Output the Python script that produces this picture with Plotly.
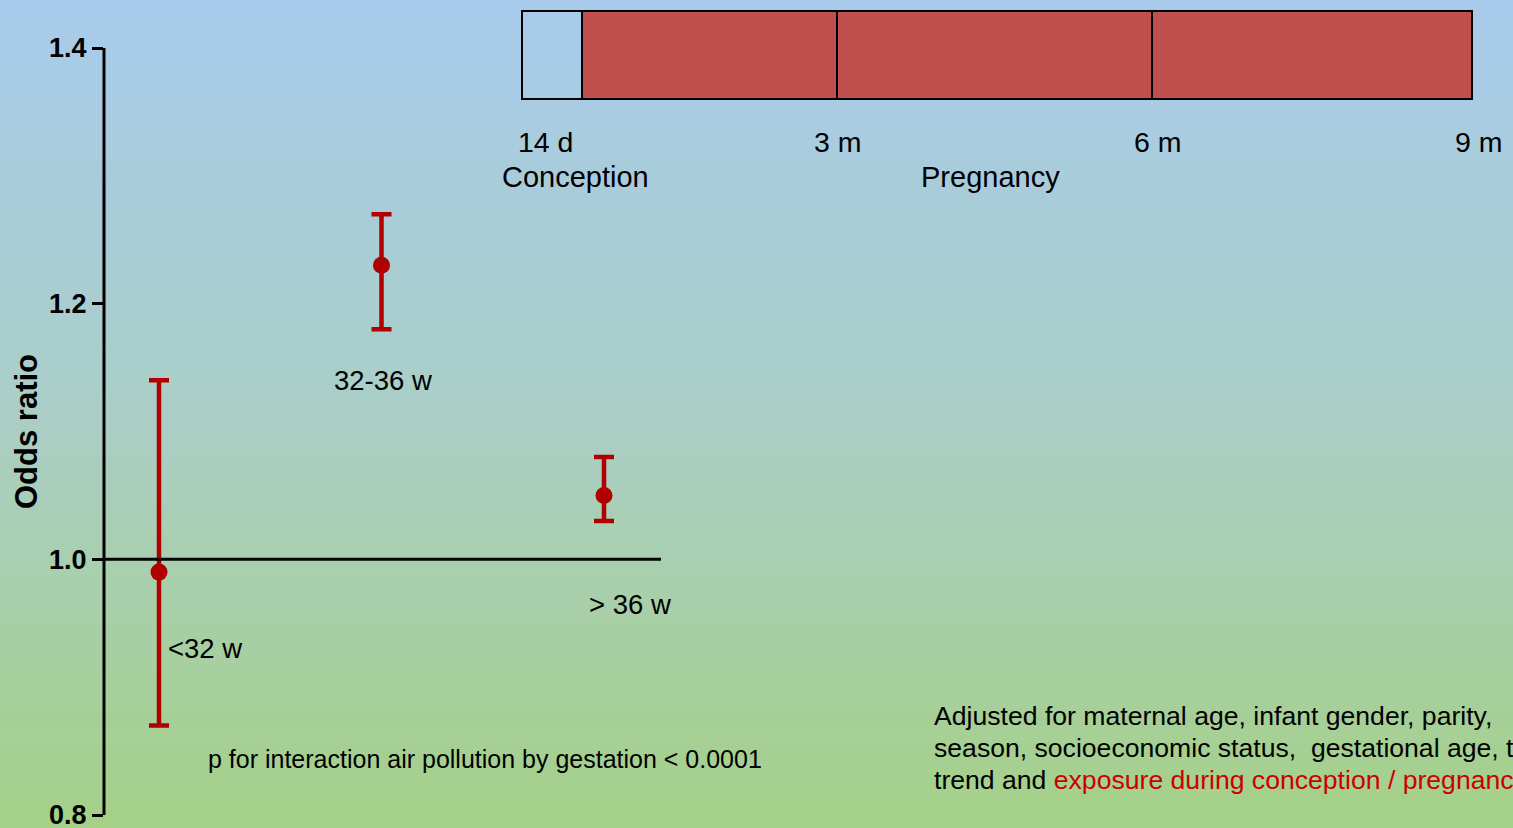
import plotly.graph_objects as go

# ---- data ----
groups = ["<32 w", "32-36 w", "> 36 w"]
group_pos = [1, 2, 3]
odds_ratio = [0.99, 1.23, 1.05]
ci_low = [0.87, 1.18, 1.03]
ci_high = [1.14, 1.27, 1.08]

y_ticks = [0.8, 1.0, 1.2, 1.4]
y_ticktext = ["0.8", "1.0", "1.2", "1.4"]

timeline_ticks = ["14 d", "3 m", "6 m", "9 m"]
timeline_phases = ["Conception", "Pregnancy"]

# ---- layout geometry (pixels) ----
W, H = 1513, 828
L = 104
PW = W - L


def px(x):
    return (x - L) / PW


def py(y):
    return 1 - y / H


FONT = "Arial, Liberation Sans, sans-serif"
RED = "#B00000"

fig = go.Figure()

fig.add_trace(go.Scatter(
    x=group_pos, y=odds_ratio, mode="markers",
    marker=dict(color=RED, size=17),
    error_y=dict(type="data", symmetric=False,
                 array=[h - o for h, o in zip(ci_high, odds_ratio)],
                 arrayminus=[o - l for o, l in zip(odds_ratio, ci_low)],
                 color=RED, thickness=4.5, width=10),
    showlegend=False, hoverinfo="skip",
))

shapes = []
# gradient background
stops = [(0, (168, 203, 236)), (414, (170, 206, 198)), (828, (165, 208, 135))]


def col_at(y):
    for (y0, c0), (y1, c1) in zip(stops[:-1], stops[1:]):
        if y0 <= y <= y1:
            t = (y - y0) / (y1 - y0)
            return "rgb(%d,%d,%d)" % tuple(round(a + (b - a) * t) for a, b in zip(c0, c1))
    return "rgb(%d,%d,%d)" % stops[-1][1]


step = 6
for y in range(0, H, step):
    shapes.append(dict(type="rect", xref="paper", yref="paper", layer="below",
                       x0=px(0), x1=1.0, y0=py(y + step + 1), y1=py(y),
                       fillcolor=col_at(y + step / 2), line=dict(width=0)))

# y axis line (0.8 to 1.4)
shapes.append(dict(type="line", xref="paper", yref="y", x0=0, x1=0,
                   y0=y_ticks[0], y1=y_ticks[-1], line=dict(color="black", width=3)))
# reference line at OR = 1
shapes.append(dict(type="line", xref="paper", yref="y", x0=0, x1=px(661),
                   y0=1.0, y1=1.0, line=dict(color="black", width=3)))

# timeline boxes
edges = [522, 582, 837, 1152, 1472]
for i in range(4):
    shapes.append(dict(type="rect", xref="paper", yref="paper",
                       x0=px(edges[i]), x1=px(edges[i + 1]), y0=py(99), y1=py(11),
                       fillcolor="rgba(0,0,0,0)" if i == 0 else "#C0504D",
                       line=dict(color="black", width=2)))

ann = []


def text(x, y, s, size, color="black", xanchor="center", bold=False, angle=0):
    ann.append(dict(x=px(x), y=py(y), xref="paper", yref="paper", text=s,
                    showarrow=False, xanchor=xanchor, yanchor="middle", textangle=angle,
                    font=dict(family=FONT, size=size, color=color,
                              weight="bold" if bold else "normal")))


# timeline labels
for s, x in zip(timeline_ticks, [545, 838, 1158, 1479]):
    text(x, 142, s, 28.5)
for s, x in zip(timeline_phases, [575, 991]):
    text(x, 177, s, 29)

# group labels
text(383, 380, groups[1], 27.5)
text(630, 604, groups[2], 27.5)
text(166, 648, groups[0], 27.5, xanchor="left")

text(206, 759, "p for interaction air pollution by gestation &lt; 0.0001", 25, xanchor="left")

text(932, 716, "Adjusted for maternal age, infant gender, parity,", 26.6, xanchor="left")
text(932, 748, "season, socioeconomic status,  gestational age, time", 26.6, xanchor="left")
text(932, 780, "trend and <span style='color:#CC0000'>exposure during conception / pregnancy</span>",
     26.6, xanchor="left")

text(26, 432, "Odds ratio", 31, bold=True, angle=-90)

k = 0.6 / 767
fig.update_layout(
    width=W, height=H,
    margin=dict(l=L, r=0, t=0, b=0, autoexpand=False),
    paper_bgcolor="rgb(170,206,198)", plot_bgcolor="rgba(0,0,0,0)",
    shapes=shapes, annotations=ann,
    xaxis=dict(visible=False, automargin=False,
               range=[1 - 55 / 222.5, 1 + (W - 159) / 222.5]),
    yaxis=dict(range=[0.8 - 13 * k, 1.4 + 48 * k], tickvals=y_ticks, ticktext=y_ticktext,
               ticks="outside", ticklen=11, tickwidth=3, tickcolor="black", automargin=False,
               showgrid=False, zeroline=False, showline=False, ticklabeloverflow="allow",
               tickfont=dict(family=FONT, size=27, color="black", weight="bold")),
)

fig.write_html("out.html", config={"displayModeBar": False},
               post_script="document.body.style.margin='0';document.body.style.overflow='hidden';")
